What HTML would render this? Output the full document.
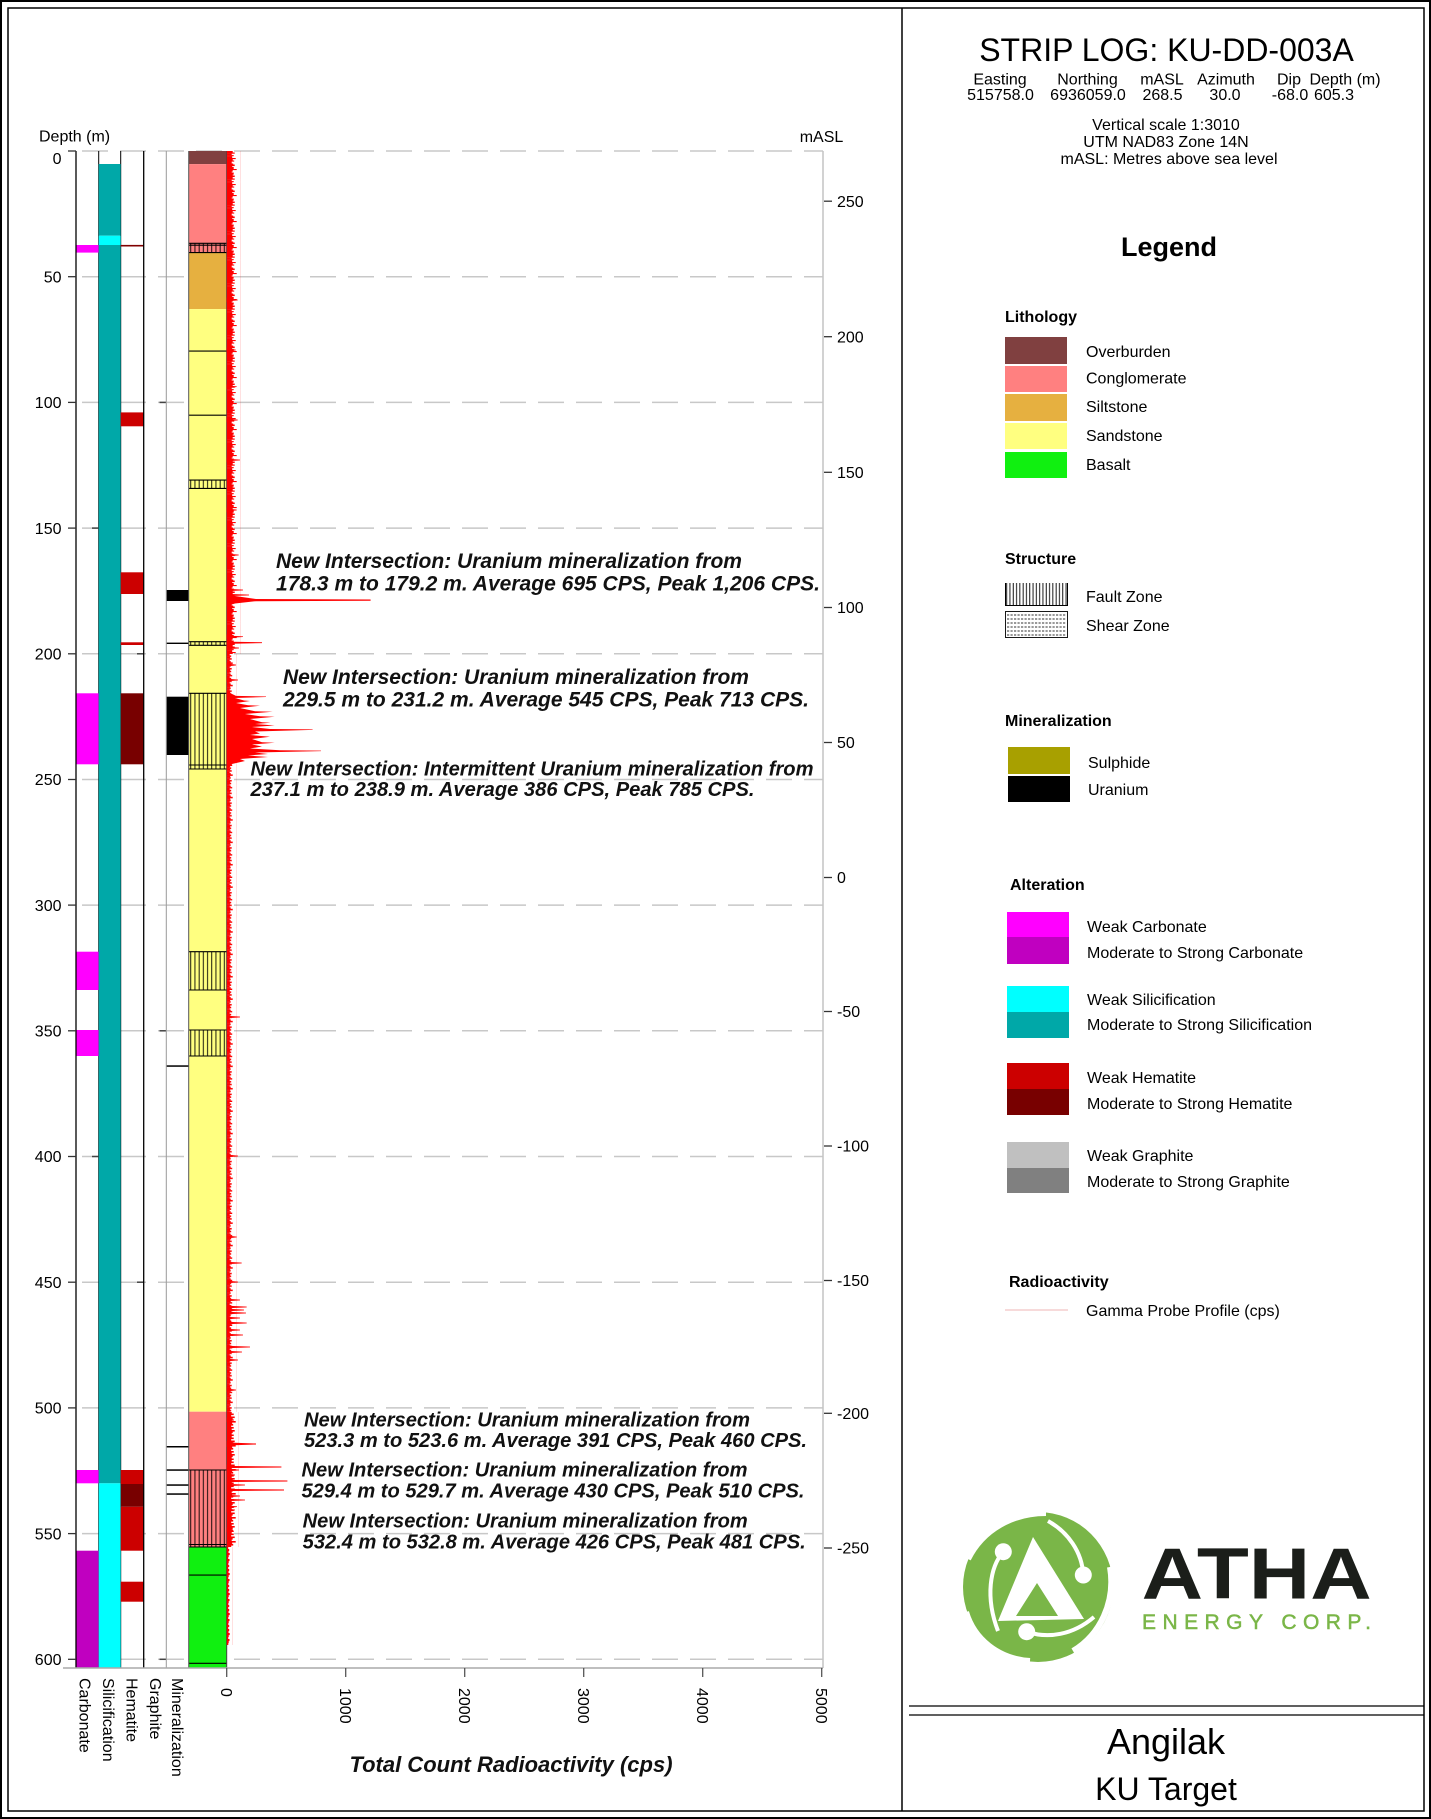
<!DOCTYPE html>
<html><head><meta charset="utf-8"><title>Strip Log KU-DD-003A</title>
<style>
html,body{margin:0;padding:0;background:#fff;width:1431px;height:1819px;overflow:hidden;}
svg{display:block;}
</style></head><body>
<svg xmlns="http://www.w3.org/2000/svg" width="1431" height="1819" viewBox="0 0 1431 1819" font-family="'Liberation Sans', Arial, sans-serif">
<defs>
<pattern id="flt" patternUnits="userSpaceOnUse" x="188.7" y="0" width="4.2" height="20"><rect x="1.6" y="0" width="0.9" height="20" fill="#000"/></pattern>
<pattern id="fltL" patternUnits="userSpaceOnUse" x="1005" y="0" width="3.3" height="20"><rect x="1.2" y="0" width="0.9" height="20" fill="#000"/></pattern>
<pattern id="gA" patternUnits="userSpaceOnUse" x="226.7" y="151" width="14" height="26"><g fill="#ff0000">
<rect y="0" height="1.6" width="6"/><rect y="1.5" height="1.2" width="8"/><rect y="2.6" height="1.6" width="5"/><rect y="4.1" height="1.1" width="7"/><rect y="5.1" height="2" width="5.5"/><rect y="7" height="1.1" width="9"/><rect y="8" height="1.6" width="6"/><rect y="9.5" height="1.1" width="7.5"/><rect y="10.5" height="2.1" width="5"/><rect y="12.5" height="1.1" width="6.5"/><rect y="13.5" height="1.6" width="8"/><rect y="15" height="1.1" width="5.5"/><rect y="16" height="2.1" width="7"/><rect y="18" height="1.1" width="10"/><rect y="19" height="1.6" width="6"/><rect y="20.5" height="1.1" width="5"/><rect y="21.5" height="2.1" width="7"/><rect y="23.5" height="1.1" width="6"/><rect y="24.5" height="1.6" width="8"/></g></pattern>
<pattern id="gB" patternUnits="userSpaceOnUse" x="226.7" y="654" width="10" height="22.4"><g fill="#ff0000">
<rect y="0" height="1.5" width="3"/><rect y="1.4" height="1.5" width="4.5"/><rect y="2.8" height="1.5" width="3.5"/><rect y="4.2" height="1.5" width="5"/><rect y="5.6" height="1.5" width="3"/><rect y="7" height="1.5" width="4"/><rect y="8.4" height="1.5" width="6"/><rect y="9.8" height="1.5" width="3.5"/><rect y="11.2" height="1.5" width="4"/><rect y="12.6" height="1.5" width="3"/><rect y="14" height="1.5" width="5"/><rect y="15.4" height="1.5" width="3.5"/><rect y="16.8" height="1.5" width="4.5"/><rect y="18.2" height="1.5" width="3"/><rect y="19.6" height="1.5" width="4"/><rect y="21" height="1.5" width="5.5"/></g></pattern>
<pattern id="gC" patternUnits="userSpaceOnUse" x="226.7" y="1412" width="12" height="24"><g fill="#ff0000">
<rect y="0" height="1.6" width="5"/><rect y="1.5" height="1.6" width="7"/><rect y="3" height="1.6" width="4.5"/><rect y="4.5" height="1.6" width="8"/><rect y="6" height="1.6" width="6"/><rect y="7.5" height="1.6" width="5"/><rect y="9" height="1.6" width="9"/><rect y="10.5" height="1.6" width="5.5"/><rect y="12" height="1.6" width="6.5"/><rect y="13.5" height="1.6" width="4.5"/><rect y="15" height="1.6" width="7"/><rect y="16.5" height="1.6" width="5"/><rect y="18" height="1.6" width="8"/><rect y="19.5" height="1.6" width="6"/><rect y="21" height="1.6" width="5"/><rect y="22.5" height="1.6" width="7"/></g></pattern>
<pattern id="gD" patternUnits="userSpaceOnUse" x="226.7" y="1547" width="6" height="20"><g fill="#ff0000">
<rect y="0" height="2.1" width="1.5"/><rect y="2" height="2.1" width="2.5"/><rect y="4" height="2.1" width="1.8"/><rect y="6" height="2.1" width="3"/><rect y="8" height="2.1" width="2"/><rect y="10" height="2.1" width="1.5"/><rect y="12" height="2.1" width="2.8"/><rect y="14" height="2.1" width="2"/><rect y="16" height="2.1" width="1.6"/><rect y="18" height="2.1" width="2.4"/></g></pattern>
</defs>

<rect width="1431" height="1819" fill="#fff"/>

<!-- Frames -->
<rect x="1" y="1" width="1429" height="1817" fill="none" stroke="#000" stroke-width="2"/>
<rect x="8" y="8" width="1416" height="1803" fill="none" stroke="#000" stroke-width="1.5"/>
<line x1="902" y1="8" x2="902" y2="1811" stroke="#000" stroke-width="1.5"/>
<line x1="909" y1="1706" x2="1424" y2="1706" stroke="#000" stroke-width="1.3"/>
<line x1="909" y1="1715" x2="1424" y2="1715" stroke="#000" stroke-width="1.3"/>

<!-- Header -->
<text x="1166.5" y="61" font-size="32" text-anchor="middle" fill="#000">STRIP LOG: KU-DD-003A</text>
<g font-size="16" text-anchor="middle" fill="#000">
<text x="1000" y="84.5">Easting</text>
<text x="1087.5" y="84.5">Northing</text>
<text x="1162" y="84.5">mASL</text>
<text x="1226" y="84.5">Azimuth</text>
<text x="1289" y="84.5">Dip</text>
<text x="1345" y="84.5">Depth (m)</text>
<text x="1000.5" y="100">515758.0</text>
<text x="1088" y="100">6936059.0</text>
<text x="1162.5" y="100">268.5</text>
<text x="1225" y="100">30.0</text>
<text x="1290" y="100">-68.0</text>
<text x="1334" y="100">605.3</text>
<text x="1166" y="130">Vertical scale 1:3010</text>
<text x="1166" y="147">UTM NAD83 Zone 14N</text>
<text x="1169" y="164">mASL: Metres above sea level</text>
</g>

<!-- Legend -->
<text x="1169" y="256" font-size="27" font-weight="bold" text-anchor="middle">Legend</text>
<g font-size="16" font-weight="bold" fill="#000">
<text x="1005" y="322">Lithology</text>
<text x="1005" y="564">Structure</text>
<text x="1005" y="726">Mineralization</text>
<text x="1010" y="890">Alteration</text>
<text x="1009" y="1287">Radioactivity</text>
</g>
<rect x="1005" y="337" width="62" height="27" fill="#804040"/>
<rect x="1005" y="366" width="62" height="26" fill="#ff8080"/>
<rect x="1005" y="394" width="62" height="27" fill="#e6b040"/>
<rect x="1005" y="423" width="62" height="26" fill="#ffff80"/>
<rect x="1005" y="452" width="62" height="26" fill="#10f010"/>
<rect x="1005" y="583" width="63" height="23" fill="url(#fltL)"/>
<line x1="1005" y1="605.5" x2="1068" y2="605.5" stroke="#000" stroke-width="1"/>
<line x1="1005.5" y1="583" x2="1005.5" y2="606" stroke="#000" stroke-width="1"/>
<line x1="1067.5" y1="583" x2="1067.5" y2="606" stroke="#000" stroke-width="1"/>
<rect x="1005.5" y="611.5" width="62" height="26" fill="#fff" stroke="#000" stroke-width="0.9"/>
<g stroke="#333" stroke-width="0.9" stroke-dasharray="2.2 1.3">
<line x1="1007" y1="615" x2="1066" y2="615"/><line x1="1007" y1="619" x2="1066" y2="619"/><line x1="1007" y1="623" x2="1066" y2="623"/><line x1="1007" y1="627" x2="1066" y2="627"/><line x1="1007" y1="631" x2="1066" y2="631"/><line x1="1007" y1="635" x2="1066" y2="635"/>
</g>
<rect x="1008" y="747" width="62" height="27" fill="#a8a000"/>
<rect x="1008" y="776" width="62" height="26" fill="#000"/>
<rect x="1007" y="912" width="62" height="25" fill="#ff00ff"/>
<rect x="1007" y="937" width="62" height="27" fill="#c000c0"/>
<rect x="1007" y="986" width="62" height="26" fill="#00ffff"/>
<rect x="1007" y="1012" width="62" height="26" fill="#00a8a8"/>
<rect x="1007" y="1063" width="62" height="26" fill="#cc0000"/>
<rect x="1007" y="1089" width="62" height="26" fill="#780000"/>
<rect x="1007" y="1142" width="62" height="26" fill="#c0c0c0"/>
<rect x="1007" y="1168" width="62" height="25" fill="#808080"/>
<line x1="1005" y1="1310" x2="1068" y2="1310" stroke="#f2c4c4" stroke-width="1.2"/>
<g font-size="16" fill="#000">
<text x="1086" y="357">Overburden</text>
<text x="1086" y="383.5">Conglomerate</text>
<text x="1086" y="412">Siltstone</text>
<text x="1086" y="441">Sandstone</text>
<text x="1086" y="470">Basalt</text>
<text x="1086" y="602">Fault Zone</text>
<text x="1086" y="631">Shear Zone</text>
<text x="1088" y="768">Sulphide</text>
<text x="1088" y="795">Uranium</text>
<text x="1087" y="932">Weak Carbonate</text>
<text x="1087" y="958">Moderate to Strong Carbonate</text>
<text x="1087" y="1005">Weak Silicification</text>
<text x="1087" y="1030">Moderate to Strong Silicification</text>
<text x="1087" y="1083">Weak Hematite</text>
<text x="1087" y="1109">Moderate to Strong Hematite</text>
<text x="1087" y="1161">Weak Graphite</text>
<text x="1087" y="1187">Moderate to Strong Graphite</text>
<text x="1086" y="1316">Gamma Probe Profile (cps)</text>
</g>

<!-- Logo -->
<g transform="translate(1038,1587)">
<circle r="75" fill="#7ab648"/>
<g fill="none" stroke="#fff" stroke-width="6">
<path d="M-70,-28 C-55,-58 -25,-74 8,-74"/>
<path d="M72,-20 C78,15 62,48 35,64"/>
<path d="M-8,74 C-40,72 -64,52 -72,25"/>
</g>
<polygon points="-5,-50 -40,34 46,32" fill="#fff"/>
<polygon points="-1,-4 -22,29 20,29" fill="#7ab648"/>
<g fill="none" stroke="#fff" stroke-width="4">
<path d="M-34.7,-35.3 C-48,-20 -53,10 -40,44"/>
<path d="M45.3,-12 C44,-35 30,-55 10,-66"/>
<path d="M-11.3,44.7 C10,52 35,48 56,30"/>
</g>
<g fill="#fff"><circle cx="-34.7" cy="-35.3" r="8.5"/><circle cx="45.3" cy="-12" r="8.5"/><circle cx="-11.3" cy="44.7" r="8.5"/></g>
</g>
<text x="1141.7" y="1598.3" font-size="72" font-weight="bold" fill="#1b1e1a" textLength="230" lengthAdjust="spacingAndGlyphs">ATHA</text>
<text x="1142" y="1629" font-size="21" fill="#7ab648" stroke="#7ab648" stroke-width="0.5" textLength="229" lengthAdjust="spacing">ENERGY CORP.</text>

<!-- Title block -->
<text x="1166" y="1754" font-size="36" text-anchor="middle" fill="#000">Angilak</text>
<text x="1166" y="1800" font-size="32" text-anchor="middle" fill="#000">KU Target</text>

<!-- ======== CHART ======== -->
<g stroke="#c8c8c8" stroke-width="1.5" stroke-dasharray="26 12">
<line x1="82" y1="151" x2="823" y2="151"/>
<line x1="82" y1="276.7" x2="823" y2="276.7"/>
<line x1="82" y1="402.4" x2="823" y2="402.4"/>
<line x1="82" y1="528.1" x2="823" y2="528.1"/>
<line x1="82" y1="653.8" x2="823" y2="653.8"/>
<line x1="82" y1="779.5" x2="823" y2="779.5"/>
<line x1="82" y1="905.1" x2="823" y2="905.1"/>
<line x1="82" y1="1030.8" x2="823" y2="1030.8"/>
<line x1="82" y1="1156.5" x2="823" y2="1156.5"/>
<line x1="82" y1="1282.2" x2="823" y2="1282.2"/>
<line x1="82" y1="1407.9" x2="823" y2="1407.9"/>
<line x1="82" y1="1533.6" x2="823" y2="1533.6"/>
<line x1="82" y1="1659.3" x2="823" y2="1659.3"/>
</g>

<line x1="98.7" y1="151" x2="98.7" y2="1668" stroke="#000" stroke-width="1"/>
<line x1="120.7" y1="151" x2="120.7" y2="1668" stroke="#000" stroke-width="1"/>

<!-- Carbonate -->
<g fill="#ff00ff">
<rect x="76" y="245" width="22.7" height="7.6"/>
<rect x="76" y="693.3" width="22.7" height="71"/>
<rect x="76" y="951.7" width="22.7" height="38.3"/>
<rect x="76" y="1030" width="22.7" height="26"/>
<rect x="76" y="1470" width="22.7" height="13.3"/>
</g>
<rect x="76" y="1550.7" width="22.7" height="117" fill="#c000c0"/>

<!-- Silicification -->
<rect x="98.7" y="164" width="22" height="71.7" fill="#00a8a8"/>
<rect x="98.7" y="235.7" width="22" height="9.3" fill="#00ffff"/>
<rect x="98.7" y="245" width="22" height="1238.3" fill="#00a8a8"/>
<rect x="98.7" y="1483.3" width="22" height="184.4" fill="#00ffff"/>

<!-- Hematite -->
<rect x="120.7" y="244.9" width="23" height="1.6" fill="#800000"/>
<g fill="#cc0000">
<rect x="120.7" y="412.4" width="23" height="13.9"/>
<rect x="120.7" y="572.3" width="23" height="21.7"/>
<rect x="120.7" y="642.3" width="23" height="2.7"/>
<rect x="120.7" y="1470" width="23" height="14"/>
<rect x="120.7" y="1506.7" width="23" height="44"/>
<rect x="120.7" y="1581.7" width="23" height="20"/>
</g>
<g fill="#780000">
<rect x="120.7" y="693.3" width="23" height="71"/>
<rect x="120.7" y="1484" width="23" height="22.7"/>
</g>

<g stroke="#444" stroke-width="1.5">
<line x1="159.5" y1="402.4" x2="166" y2="402.4"/>
<line x1="92" y1="528.1" x2="98.5" y2="528.1"/>
<line x1="137" y1="653.8" x2="143.5" y2="653.8"/>
<line x1="159.5" y1="1030.8" x2="166" y2="1030.8"/>
<line x1="92" y1="1156.5" x2="98.5" y2="1156.5"/>
<line x1="137" y1="1282.2" x2="143.5" y2="1282.2"/>
<line x1="159.5" y1="1659.3" x2="166" y2="1659.3"/>
</g>

<!-- Mineralization -->
<g fill="#000">
<rect x="166.3" y="590" width="22.4" height="11"/>
<rect x="166.3" y="642.6" width="22.4" height="1.4"/>
<rect x="166.3" y="696.7" width="22.4" height="58.3"/>
<rect x="166.3" y="1065.3" width="22.4" height="1.5"/>
<rect x="166.3" y="1446" width="22.4" height="1.5"/>
<rect x="166.3" y="1469.3" width="22.4" height="1.5"/>
<rect x="166.3" y="1484.3" width="22.4" height="1.5"/>
<rect x="166.3" y="1493.3" width="22.4" height="1.5"/>
</g>

<!-- Lithology -->
<rect x="188.7" y="151" width="38" height="13.1" fill="#804040"/>
<rect x="188.7" y="164.1" width="38" height="88.5" fill="#ff8080"/>
<rect x="188.7" y="252.6" width="38" height="56.5" fill="#e6b040"/>
<rect x="188.7" y="309.1" width="38" height="1102.6" fill="#ffff80"/>
<rect x="188.7" y="1411.7" width="38" height="135.2" fill="#ff8080"/>
<rect x="188.7" y="1546.9" width="38" height="120.8" fill="#10f010"/>
<g fill="url(#flt)">
<rect x="188.7" y="243.3" width="38" height="9.3"/>
<rect x="188.7" y="480.1" width="38" height="8.3"/>
<rect x="188.7" y="641.7" width="38" height="3.6"/>
<rect x="188.7" y="693.3" width="38" height="75.7"/>
<rect x="188.7" y="951.7" width="38" height="38.3"/>
<rect x="188.7" y="1030" width="38" height="26"/>
<rect x="188.7" y="1470" width="38" height="77"/>
</g>
<g stroke="#000" stroke-width="1.1">
<line x1="188.7" y1="243.3" x2="226.7" y2="243.3"/>
<line x1="188.7" y1="245.2" x2="226.7" y2="245.2"/>
<line x1="188.7" y1="252.6" x2="226.7" y2="252.6"/>
<line x1="188.7" y1="351.1" x2="226.7" y2="351.1"/>
<line x1="188.7" y1="415.2" x2="226.7" y2="415.2"/>
<line x1="188.7" y1="480.1" x2="226.7" y2="480.1"/>
<line x1="188.7" y1="488.4" x2="226.7" y2="488.4"/>
<line x1="188.7" y1="641.7" x2="226.7" y2="641.7"/>
<line x1="188.7" y1="645.3" x2="226.7" y2="645.3"/>
<line x1="188.7" y1="693.3" x2="226.7" y2="693.3"/>
<line x1="188.7" y1="765" x2="226.7" y2="765"/>
<line x1="188.7" y1="769" x2="226.7" y2="769"/>
<line x1="188.7" y1="951.7" x2="226.7" y2="951.7"/>
<line x1="188.7" y1="990" x2="226.7" y2="990"/>
<line x1="188.7" y1="1030" x2="226.7" y2="1030"/>
<line x1="188.7" y1="1056" x2="226.7" y2="1056"/>
<line x1="188.7" y1="1470" x2="226.7" y2="1470"/>
<line x1="188.7" y1="1544.5" x2="226.7" y2="1544.5"/>
<line x1="188.7" y1="1547" x2="226.7" y2="1547"/>
<line x1="188.7" y1="1575.1" x2="226.7" y2="1575.1"/>
<line x1="188.7" y1="1663.3" x2="226.7" y2="1663.3"/>
</g>

<line x1="76" y1="151" x2="76" y2="1668" stroke="#000" stroke-width="1.3"/>
<line x1="143.7" y1="151" x2="143.7" y2="1668" stroke="#000" stroke-width="1.3"/>
<line x1="166.3" y1="151" x2="166.3" y2="1668" stroke="#9a9a9a" stroke-width="1"/>
<line x1="188.7" y1="151" x2="188.7" y2="1668" stroke="#555" stroke-width="1"/>
<line x1="226.7" y1="151" x2="226.7" y2="1668" stroke="#444" stroke-width="1"/>

<line x1="823" y1="151" x2="823" y2="1668" stroke="#c4c4c4" stroke-width="1.5"/>
<line x1="63" y1="1668" x2="823" y2="1668" stroke="#aaa" stroke-width="1.5"/>

<!-- Gamma profile -->
<rect x="226.7" y="151" width="14" height="503" fill="url(#gA)"/>
<rect x="226.7" y="654" width="10" height="758" fill="url(#gB)"/>
<rect x="226.7" y="1412" width="12" height="135" fill="url(#gC)"/>
<rect x="226.7" y="1547" width="6" height="98" fill="url(#gD)"/>
<g fill="#ff0000">
<polygon points="226.7,593 235,596 256,599 370.6,599.5 370.6,600.7 256,601.2 235,603.5 226.7,606"/>
<polygon points="226.7,690 230,693 236,695.9 266,696.5 266,697 235,698 244,700.5 250,701 236,703 248,705.2 260,705.7 240,708 255,711.2 272.6,711.7 245,714 260,716.2 274.7,716.7 250,719 262,722.2 270.5,722.7 255,724 274.7,725.5 252,727 270,729 312.6,729.4 312.6,729.9 255,731.5 260,733.5 250,735 270,736.7 252,739 262,742.2 274.7,742.7 252,744.5 262,746.5 250,748.5 280,750.2 321,750.6 321,751.1 255,752.5 268,754 248,755.5 268,757 240,759 245,761 232,764 229,768 226.7,770"/>
<path transform="translate(226.7,300)" d="M0,-2.5L4,-1L11,-.35V.35L4,1L0,2.5Z"/>
<path transform="translate(226.7,350)" d="M0,-2.5L4,-1L9,-.35V.35L4,1L0,2.5Z"/>
<path transform="translate(226.7,386.7)" d="M0,-2.5L4,-1L10,-.35V.35L4,1L0,2.5Z"/>
<path transform="translate(226.7,420)" d="M0,-2.5L4,-1L11,-.35V.35L4,1L0,2.5Z"/>
<path transform="translate(226.7,460)" d="M0,-2.5L4,-1L13.3,-.35V.35L4,1L0,2.5Z"/>
<path transform="translate(226.7,510)" d="M0,-2.5L4,-1L10,-.35V.35L4,1L0,2.5Z"/>
<path transform="translate(226.7,555)" d="M0,-2.5L4,-1L12,-.35V.35L4,1L0,2.5Z"/>
<path transform="translate(226.7,590)" d="M0,-2.5L4,-1L16.3,-.35V.35L4,1L0,2.5Z"/>
<path transform="translate(226.7,595)" d="M0,-2.5L4,-1L22.3,-.35V.35L4,1L0,2.5Z"/>
<path transform="translate(226.7,636.7)" d="M0,-2.5L4,-1L16.3,-.35V.35L4,1L0,2.5Z"/>
<path transform="translate(226.7,642.7)" d="M0,-2.5L6,-1L35.3,-.4V.4L6,1L0,2.5Z"/>
<path transform="translate(226.7,648)" d="M0,-2.5L4,-1L12.3,-.35V.35L4,1L0,2.5Z"/>
<path transform="translate(226.7,665)" d="M0,-2.5L4,-1L9.3,-.35V.35L4,1L0,2.5Z"/>
<path transform="translate(226.7,680)" d="M0,-2.5L4,-1L11.3,-.35V.35L4,1L0,2.5Z"/>
<path transform="translate(226.7,1017)" d="M0,-2.5L4,-1L13.3,-.35V.35L4,1L0,2.5Z"/>
<path transform="translate(226.7,1156)" d="M0,-2.5L4,-1L11.3,-.35V.35L4,1L0,2.5Z"/>
<path transform="translate(226.7,1237)" d="M0,-2.5L4,-1L10,-.35V.35L4,1L0,2.5Z"/>
<path transform="translate(226.7,1263)" d="M0,-2.5L4,-1L15,-.35V.35L4,1L0,2.5Z"/>
<path transform="translate(226.7,1282)" d="M0,-2.5L4,-1L11.3,-.35V.35L4,1L0,2.5Z"/>
<path transform="translate(226.7,1300)" d="M0,-2.5L4,-1L13.3,-.35V.35L4,1L0,2.5Z"/>
<path transform="translate(226.7,1307)" d="M0,-2.5L6,-1L20,-.4V.4L6,1L0,2.5Z"/>
<path transform="translate(226.7,1310)" d="M0,-2.5L6,-1L17.3,-.4V.4L6,1L0,2.5Z"/>
<path transform="translate(226.7,1313)" d="M0,-2.5L6,-1L19.3,-.4V.4L6,1L0,2.5Z"/>
<path transform="translate(226.7,1318)" d="M0,-2.5L4,-1L13.3,-.35V.35L4,1L0,2.5Z"/>
<path transform="translate(226.7,1323)" d="M0,-2.5L6,-1L20,-.4V.4L6,1L0,2.5Z"/>
<path transform="translate(226.7,1330)" d="M0,-2.5L4,-1L13.3,-.35V.35L4,1L0,2.5Z"/>
<path transform="translate(226.7,1335)" d="M0,-2.5L4,-1L16.3,-.35V.35L4,1L0,2.5Z"/>
<path transform="translate(226.7,1347)" d="M0,-2.5L6,-1L23.3,-.4V.4L6,1L0,2.5Z"/>
<path transform="translate(226.7,1352)" d="M0,-2.5L4,-1L15.3,-.35V.35L4,1L0,2.5Z"/>
<path transform="translate(226.7,1360)" d="M0,-2.5L4,-1L11.3,-.35V.35L4,1L0,2.5Z"/>
<path transform="translate(226.7,1390)" d="M0,-2.5L4,-1L9.3,-.35V.35L4,1L0,2.5Z"/>
<path transform="translate(226.7,1420)" d="M0,-2.5L4,-1L7.3,-.35V.35L4,1L0,2.5Z"/>
<path transform="translate(226.7,1444)" d="M0,-3L8,-1.2L29.3,-.5V.5L8,1.2L0,3Z"/>
<path transform="translate(226.7,1467)" d="M0,-2.5L6,-1L54.7,-.5V.5L6,1L0,2.5Z"/>
<path transform="translate(226.7,1470)" d="M0,-2.5L4,-1L12.3,-.35V.35L4,1L0,2.5Z"/>
<path transform="translate(226.7,1475)" d="M0,-2.5L4,-1L8.3,-.35V.35L4,1L0,2.5Z"/>
<path transform="translate(226.7,1481)" d="M0,-2.5L6,-1L60.7,-.5V.5L6,1L0,2.5Z"/>
<path transform="translate(226.7,1485)" d="M0,-2.5L4,-1L18.3,-.35V.35L4,1L0,2.5Z"/>
<path transform="translate(226.7,1490)" d="M0,-2.5L6,-1L57.3,-.5V.5L6,1L0,2.5Z"/>
<path transform="translate(226.7,1496)" d="M0,-2.5L4,-1L13.3,-.35V.35L4,1L0,2.5Z"/>
<path transform="translate(226.7,1500)" d="M0,-2.5L4,-1L18.3,-.35V.35L4,1L0,2.5Z"/>
<path transform="translate(226.7,1506.7)" d="M0,-2.5L4,-1L10.3,-.35V.35L4,1L0,2.5Z"/>
<path transform="translate(226.7,1510)" d="M0,-2.5L4,-1L8.3,-.35V.35L4,1L0,2.5Z"/>
<path transform="translate(226.7,1530)" d="M0,-2.5L4,-1L6.3,-.35V.35L4,1L0,2.5Z"/>
</g>

<!-- left depth axis -->
<g stroke="#333" stroke-width="1.3">
<line x1="68" y1="151" x2="76" y2="151"/><line x1="68" y1="276.7" x2="76" y2="276.7"/><line x1="68" y1="402.4" x2="76" y2="402.4"/><line x1="68" y1="528.1" x2="76" y2="528.1"/><line x1="68" y1="653.8" x2="76" y2="653.8"/><line x1="68" y1="779.5" x2="76" y2="779.5"/><line x1="68" y1="905.1" x2="76" y2="905.1"/><line x1="68" y1="1030.8" x2="76" y2="1030.8"/><line x1="68" y1="1156.5" x2="76" y2="1156.5"/><line x1="68" y1="1282.2" x2="76" y2="1282.2"/><line x1="68" y1="1407.9" x2="76" y2="1407.9"/><line x1="68" y1="1533.6" x2="76" y2="1533.6"/><line x1="68" y1="1659.3" x2="76" y2="1659.3"/>
</g>
<text x="39" y="141.5" font-size="16">Depth (m)</text>
<g font-size="16" text-anchor="end" fill="#000">
<text x="61.5" y="164">0</text>
<text x="61.5" y="282.4">50</text>
<text x="61.5" y="408.1">100</text>
<text x="61.5" y="533.8">150</text>
<text x="61.5" y="659.5">200</text>
<text x="61.5" y="785.2">250</text>
<text x="61.5" y="910.8">300</text>
<text x="61.5" y="1036.5">350</text>
<text x="61.5" y="1162.2">400</text>
<text x="61.5" y="1287.9">450</text>
<text x="61.5" y="1413.6">500</text>
<text x="61.5" y="1539.3">550</text>
<text x="61.5" y="1665">600</text>
</g>

<!-- right mASL axis -->
<text x="821.5" y="142" font-size="16" text-anchor="middle">mASL</text>
<g stroke="#333" stroke-width="1.3">
<line x1="824" y1="201.2" x2="832" y2="201.2"/><line x1="824" y1="336.7" x2="832" y2="336.7"/><line x1="824" y1="472.3" x2="832" y2="472.3"/><line x1="824" y1="607.5" x2="832" y2="607.5"/><line x1="824" y1="742.5" x2="832" y2="742.5"/><line x1="824" y1="877.5" x2="832" y2="877.5"/><line x1="824" y1="1011.5" x2="832" y2="1011.5"/><line x1="824" y1="1146" x2="832" y2="1146"/><line x1="824" y1="1280.5" x2="832" y2="1280.5"/><line x1="824" y1="1413.3" x2="832" y2="1413.3"/><line x1="824" y1="1548" x2="832" y2="1548"/>
</g>
<g font-size="16" fill="#000">
<text x="837" y="206.9">250</text>
<text x="837" y="342.4">200</text>
<text x="837" y="478">150</text>
<text x="837" y="613.2">100</text>
<text x="837" y="748.2">50</text>
<text x="837" y="883.2">0</text>
<text x="837" y="1017.2">-50</text>
<text x="837" y="1151.7">-100</text>
<text x="837" y="1286.2">-150</text>
<text x="837" y="1419">-200</text>
<text x="837" y="1553.7">-250</text>
</g>

<!-- gamma x-axis -->
<g stroke="#555" stroke-width="1.3">
<line x1="226.7" y1="1668" x2="226.7" y2="1677"/><line x1="345.7" y1="1668" x2="345.7" y2="1677"/><line x1="464.7" y1="1668" x2="464.7" y2="1677"/><line x1="583.7" y1="1668" x2="583.7" y2="1677"/><line x1="702.7" y1="1668" x2="702.7" y2="1677"/><line x1="821.7" y1="1668" x2="821.7" y2="1677"/>
</g>
<g font-size="16" fill="#000">
<text transform="translate(220.9,1688) rotate(90)">0</text>
<text transform="translate(339.9,1688) rotate(90)">1000</text>
<text transform="translate(458.9,1688) rotate(90)">2000</text>
<text transform="translate(577.9,1688) rotate(90)">3000</text>
<text transform="translate(696.9,1688) rotate(90)">4000</text>
<text transform="translate(815.9,1688) rotate(90)">5000</text>
<text transform="translate(79.5,1678) rotate(90)">Carbonate</text>
<text transform="translate(103,1678) rotate(90)">Silicification</text>
<text transform="translate(126.5,1678) rotate(90)">Hematite</text>
<text transform="translate(150,1678) rotate(90)">Graphite</text>
<text transform="translate(172,1678) rotate(90)">Mineralization</text>
</g>
<text x="511" y="1772" font-size="22" font-weight="bold" font-style="italic" text-anchor="middle" fill="#111">Total Count Radioactivity (cps)</text>

<!-- annotations -->
<g font-weight="bold" font-style="italic" fill="#111">
<text x="276" y="568" font-size="21" textLength="466" lengthAdjust="spacingAndGlyphs">New Intersection: Uranium mineralization from</text>
<text x="276" y="590.5" font-size="21" textLength="544" lengthAdjust="spacingAndGlyphs">178.3 m to 179.2 m. Average 695 CPS, Peak 1,206 CPS.</text>
<text x="283" y="684" font-size="21" textLength="466" lengthAdjust="spacingAndGlyphs">New Intersection: Uranium mineralization from</text>
<text x="283" y="706.5" font-size="21" textLength="526" lengthAdjust="spacingAndGlyphs">229.5 m to 231.2 m. Average 545 CPS, Peak 713 CPS.</text>
<text x="250.5" y="775.5" font-size="20" textLength="563" lengthAdjust="spacingAndGlyphs">New Intersection: Intermittent Uranium mineralization from</text>
<text x="250.5" y="796" font-size="20" textLength="504" lengthAdjust="spacingAndGlyphs">237.1 m to 238.9 m. Average 386 CPS, Peak 785 CPS.</text>
<text x="304" y="1426.5" font-size="20" textLength="446" lengthAdjust="spacingAndGlyphs">New Intersection: Uranium mineralization from</text>
<text x="304" y="1447" font-size="20" textLength="503" lengthAdjust="spacingAndGlyphs">523.3 m to 523.6 m. Average 391 CPS, Peak 460 CPS.</text>
<text x="301.5" y="1476.5" font-size="20" textLength="446" lengthAdjust="spacingAndGlyphs">New Intersection: Uranium mineralization from</text>
<text x="301.5" y="1497.5" font-size="20" textLength="503" lengthAdjust="spacingAndGlyphs">529.4 m to 529.7 m. Average 430 CPS, Peak 510 CPS.</text>
<text x="302.7" y="1527.5" font-size="20" textLength="445" lengthAdjust="spacingAndGlyphs">New Intersection: Uranium mineralization from</text>
<text x="302.7" y="1548.5" font-size="20" textLength="503" lengthAdjust="spacingAndGlyphs">532.4 m to 532.8 m. Average 426 CPS, Peak 481 CPS.</text>
</g>
</svg>
</body></html>
